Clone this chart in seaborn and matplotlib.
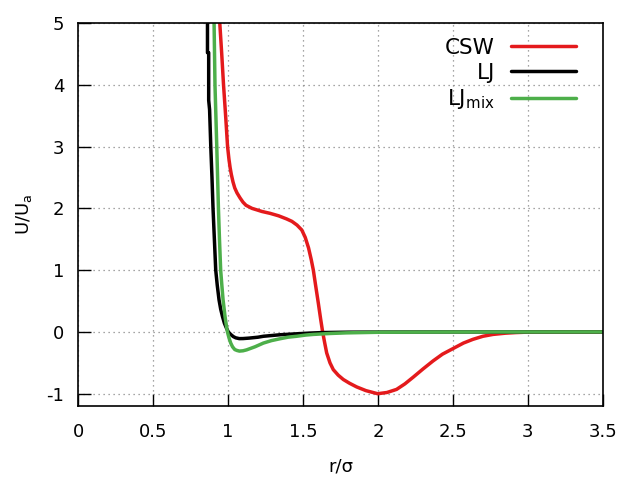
import matplotlib

matplotlib.use("Agg")
import matplotlib.pyplot as plt
import pandas as pd
import seaborn as sns

# values (r/sigma, U/U_a)
csw_r = [0.935, 0.945, 0.958, 0.97, 0.984, 0.997, 1.006, 1.014, 1.022, 1.033,
         1.045, 1.06, 1.08, 1.1, 1.12, 1.16, 1.2, 1.226, 1.28, 1.337,
         1.39, 1.426, 1.46, 1.492, 1.515, 1.537, 1.555, 1.569, 1.585, 1.602,
         1.617, 1.631, 1.645, 1.658, 1.68, 1.702, 1.735, 1.769, 1.81, 1.858,
         1.92, 1.998, 2.06, 2.124, 2.18, 2.236, 2.3, 2.367, 2.43, 2.5,
         2.57, 2.633, 2.7, 2.767, 2.85, 2.92, 3.0, 3.2, 3.5]
csw_u = [5.6, 5.0, 4.5, 4.0, 3.5, 3.0, 2.8, 2.66, 2.55, 2.43,
         2.33, 2.25, 2.17, 2.1, 2.05, 2.0, 1.97, 1.95, 1.92, 1.88,
         1.83, 1.79, 1.73, 1.65, 1.53, 1.36, 1.17, 1.0, 0.74, 0.47,
         0.22, 0.0, -0.18, -0.34, -0.5, -0.61, -0.7, -0.77, -0.83, -0.89,
         -0.95, -1.0, -0.98, -0.93, -0.84, -0.73, -0.6, -0.47, -0.36, -0.27,
         -0.18, -0.12, -0.07, -0.04, -0.02, -0.01, -0.003, 0.0, 0.0]

lj_r = [0.863, 0.863, 0.871, 0.871, 0.877, 0.885, 0.893, 0.9, 0.909, 0.918,
        0.928, 0.94, 0.951, 0.963, 0.976, 0.989, 1.002, 1.018, 1.035, 1.051,
        1.075, 1.1, 1.14, 1.2, 1.236, 1.35, 1.458, 1.55, 1.63, 1.8,
        2.0, 2.5, 3.5]
lj_u = [5.6, 4.52, 4.52, 3.75, 3.6, 3.0, 2.5, 2.0, 1.5, 1.0,
        0.76, 0.52, 0.37, 0.25, 0.14, 0.065, 0.0, -0.04, -0.075, -0.095,
        -0.108, -0.107, -0.1, -0.085, -0.07, -0.045, -0.03, -0.018, -0.01, -0.004,
        -0.002, 0.0, 0.0]

mix_r = [0.903, 0.907, 0.913, 0.925, 0.936, 0.943, 0.951, 0.959, 0.967, 0.98,
         0.988, 0.996, 1.007, 1.018, 1.03, 1.045, 1.06, 1.076, 1.1, 1.124,
         1.18, 1.236, 1.29, 1.347, 1.4, 1.458, 1.52, 1.569, 1.68, 1.79,
         2.01, 2.5, 3.5]
mix_u = [5.6, 5.0, 4.0, 3.0, 2.0, 1.5, 1.0, 0.75, 0.52, 0.25,
         0.12, 0.0, -0.1, -0.18, -0.24, -0.285, -0.3, -0.31, -0.305, -0.29,
         -0.24, -0.18, -0.14, -0.11, -0.085, -0.07, -0.05, -0.04, -0.025, -0.015,
         -0.005, -0.001, 0.0]

labels = ["CSW", "LJ", r"LJ$_\mathregular{mix}$"]
colors = ["#e41a1c", "#000000", "#4daf4a"]
x_ticks = [0, 0.5, 1, 1.5, 2, 2.5, 3, 3.5]
x_tick_labels = ["0", "0.5", "1", "1.5", "2", "2.5", "3", "3.5"]
y_ticks = [-1, 0, 1, 2, 3, 4, 5]

sns.set_theme(style="white")
plt.rcParams["font.family"] = ["DejaVu Sans"]
plt.rcParams["mathtext.default"] = "regular"
plt.rcParams["axes.unicode_minus"] = False
plt.rcParams["text.color"] = "black"
plt.rcParams["axes.labelcolor"] = "black"

fig, ax = plt.subplots(figsize=(6.4, 4.8), dpi=100)
fig.subplots_adjust(left=0.122, right=0.942, top=0.952, bottom=0.154)

for r, u, lab, col in zip(
    [csw_r, lj_r, mix_r], [csw_u, lj_u, mix_u], labels, colors
):
    df = pd.DataFrame({"r": r, "U": u})
    sns.lineplot(
        data=df, x="r", y="U", ax=ax, color=col, lw=2.5,
        sort=False, estimator=None, label=lab,
    )

ax.set_xlim(0, 3.5)
ax.set_ylim(-1.2, 5)
ax.set_xticks(x_ticks)
ax.set_xticklabels(x_tick_labels)
ax.set_yticks(y_ticks)
ax.tick_params(
    direction="in", length=9, width=1, labelsize=13, colors="black",
    top=False, right=False, bottom=True, left=True,
)
ax.tick_params(axis="x", pad=12)
ax.tick_params(axis="y", pad=10)
ax.grid(True, linestyle=(0, (1, 3)), color="#888888", lw=0.9)
for s in ax.spines.values():
    s.set_color("black")
    s.set_linewidth(1.2)

ax.set_xlabel("r/σ", fontsize=13, labelpad=12)
ax.set_ylabel(r"U/U$_\mathregular{a}$", fontsize=13, labelpad=9)

ax.legend(
    loc="upper right", bbox_to_anchor=(0.973, 0.995), frameon=False,
    markerfirst=False, fontsize=15.5, handlelength=3.0, handletextpad=0.75,
    labelspacing=0.22, borderaxespad=0.2,
)

fig.savefig("out.png", dpi=100)
